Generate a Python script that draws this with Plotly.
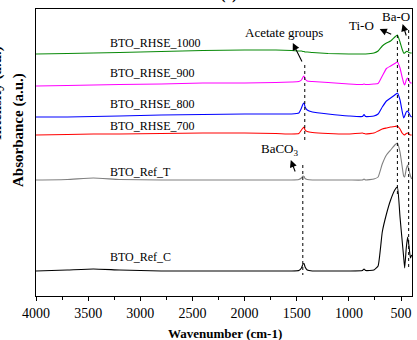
import plotly.graph_objects as go

# ---------------- data ----------------
wavenumber = [4000, 3700, 3450, 3200, 2800, 2400, 2000, 1700, 1550, 1480, 1455, 1440, 1430,
              1420, 1400, 1350, 1200, 1000, 870, 855, 840, 760, 720, 680, 640, 600, 560, 535,
              510, 490, 475, 465, 450, 437, 425, 410, 398]

bto_rhse_1000 = [242, 242.5, 243, 243.5, 244.5, 245.5, 246, 246, 245.5, 245, 245, 244.5, 244.5,
                 244, 244, 243.5, 242.5, 242, 242, 242, 242, 243, 245, 250, 253, 255, 259, 261,
                 254, 247, 243, 243, 244.5, 244.5, 243.5, 243, 243]
bto_rhse_900 = [210, 210.5, 211, 211.5, 212, 213, 213, 213.5, 214, 214.5, 216, 219, 220,
                217, 215, 214.5, 213.5, 212, 211.5, 212, 211.5, 212, 212.5, 220, 227.5, 230, 232.5, 234,
                228, 219, 213, 211, 216, 218, 216, 213, 213]
bto_rhse_800 = [179, 179, 179.5, 180, 181, 181.5, 182, 182, 182, 183, 188, 192, 193,
                189, 186, 184, 182, 180, 179.5, 181.5, 179.5, 180, 182, 189, 195, 198, 201, 203,
                196, 185, 178, 180, 184, 185, 183, 180, 179]
bto_rhse_700 = [161, 161.5, 162, 162, 162.5, 163, 163, 162.5, 162, 162.5, 166, 168, 169,
                166, 164.5, 163.5, 162.5, 162, 163, 162.5, 162, 163, 165, 167, 168, 169, 169.5, 170,
                167, 163, 161.5, 161, 162.5, 163, 162, 161, 161]
bto_ref_t = [116, 116.5, 118, 116.5, 116, 116, 116, 116, 116, 116.5, 118, 120, 119.5,
             117.5, 116.5, 116, 116, 116, 116, 117, 116, 117, 119, 132, 141, 146, 151, 153,
             144, 130, 120, 119, 127, 131, 126, 120, 117]
bto_ref_c = [25, 26, 27, 26, 25, 25, 25, 25, 25, 25.5, 28, 32, 32.5,
             29, 26, 25, 25, 25, 25.5, 27, 25.5, 26, 30, 64, 82, 96, 106, 109,
             79, 56, 39, 28, 48, 59, 51, 38, 41]

series_names = ["BTO_RHSE_1000", "BTO_RHSE_900", "BTO_RHSE_800", "BTO_RHSE_700", "BTO_Ref_T", "BTO_Ref_C"]
series_values = [bto_rhse_1000, bto_rhse_900, bto_rhse_800, bto_rhse_700, bto_ref_t, bto_ref_c]

# band positions (cm-1)
band_acetate = 1423
band_baco3 = 1442
band_tio = 535
band_bao = 427

x_ticks = [4000, 3500, 3000, 2500, 2000, 1500, 1000, 500]

# ---------------- style ----------------
colors = ["#0a8a0a", "#ff00ff", "#0000ff", "#ff0000", "#808080", "#000000"]
label_y = [253, 223, 192, 170, 124, 39]
FONT = "Liberation Serif, Times New Roman, serif"

fig = go.Figure()

for name, vals, col in zip(series_names, series_values, colors):
    fig.add_trace(go.Scatter(x=wavenumber, y=vals, mode="lines", name=name,
                             line=dict(color=col, width=1.1, shape="spline", smoothing=0.4),
                             hoverinfo="skip", showlegend=False))

for bx, y0, y1 in [(band_acetate, 231, 156), (band_baco3, 131, 21), (band_tio, 261, 99), (band_bao, 266, 26)]:
    fig.add_trace(go.Scatter(x=[bx, bx], y=[y0, y1], mode="lines",
                             line=dict(color="black", width=1, dash="dot"),
                             hoverinfo="skip", showlegend=False))

annotations = []
for name, ly in zip(series_names, label_y):
    annotations.append(dict(x=3310, y=ly, xref="x", yref="y", text=name, showarrow=False,
                            xanchor="left", yanchor="middle", font=dict(family=FONT, size=12, color="black")))

texts = [("Acetate groups", 1625, 264), ("BaCO<sub>3</sub>", 1663, 147), ("Ti-O", 877, 271), ("Ba-O", 552, 280)]
for t, tx, ty in texts:
    annotations.append(dict(x=tx, y=ty, xref="x", yref="y", text=t, showarrow=False,
                            xanchor="center", yanchor="middle", font=dict(family=FONT, size=13, color="black")))

arrows = [((1538, 253), (1443, 233)), ((1557, 136), (1510, 123)), ((705, 267), (580, 261)), ((485, 272), (446, 259))]
for (hx, hy), (tx, ty) in arrows:
    annotations.append(dict(x=hx, y=hy, ax=tx, ay=ty, xref="x", yref="y", axref="x", ayref="y",
                            text="", showarrow=True, arrowhead=2, arrowsize=1.3, arrowwidth=1.1,
                            arrowcolor="black"))

# axis titles
annotations.append(dict(x=(18 - 36) / 376, y=(296 - 130) / 287, xref="paper", yref="paper",
                        text="<b>Absorbance (a.u.)</b>", textangle=-90, showarrow=False,
                        xanchor="center", yanchor="middle", font=dict(family=FONT, size=15, color="black")))
annotations.append(dict(x=(225 - 36) / 376, y=(296 - 333) / 287, xref="paper", yref="paper",
                        text="<b>Wavenumber (cm-1)</b>", showarrow=False,
                        xanchor="center", yanchor="middle", font=dict(family=FONT, size=13, color="black")))
# cropped remnants of neighbouring panel
annotations.append(dict(x=(220 - 36) / 376, y=(296 - 5) / 287, xref="paper", yref="paper",
                        text="<b>2θ(°)</b>", showarrow=False,
                        xanchor="center", yanchor="bottom", font=dict(family=FONT, size=16, color="black")))
annotations.append(dict(x=(-4 - 36) / 376, y=(296 - 93) / 287, xref="paper", yref="paper",
                        text="<b>Intensity (a.u.)</b>", textangle=-90, showarrow=False,
                        xanchor="center", yanchor="middle", font=dict(family=FONT, size=15, color="black")))

fig.update_layout(
    width=417, height=340, autosize=False,
    margin=dict(l=36, r=5, t=9, b=44, pad=0),
    paper_bgcolor="white", plot_bgcolor="white",
    font=dict(family=FONT, size=14, color="black"),
    annotations=annotations,
    xaxis=dict(range=[4000, 395], tickvals=x_ticks, ticks="outside", ticklen=4, tickwidth=1,
               tickcolor="black", showline=True, linecolor="black", linewidth=1, mirror=True,
               showgrid=False, zeroline=False, tickfont=dict(family=FONT, size=14, color="black"),
               automargin=False,
               minor=dict(dtick=250, ticks="outside", ticklen=3, tickcolor="black", showgrid=False)),
    yaxis=dict(range=[0, 287], showticklabels=False, ticks="", showline=True, linecolor="black",
               linewidth=1, mirror=True, showgrid=False, zeroline=False, automargin=False),
)

fig.write_html("out.html", config={"displayModeBar": False},
               post_script="document.body.style.margin='0px';")
